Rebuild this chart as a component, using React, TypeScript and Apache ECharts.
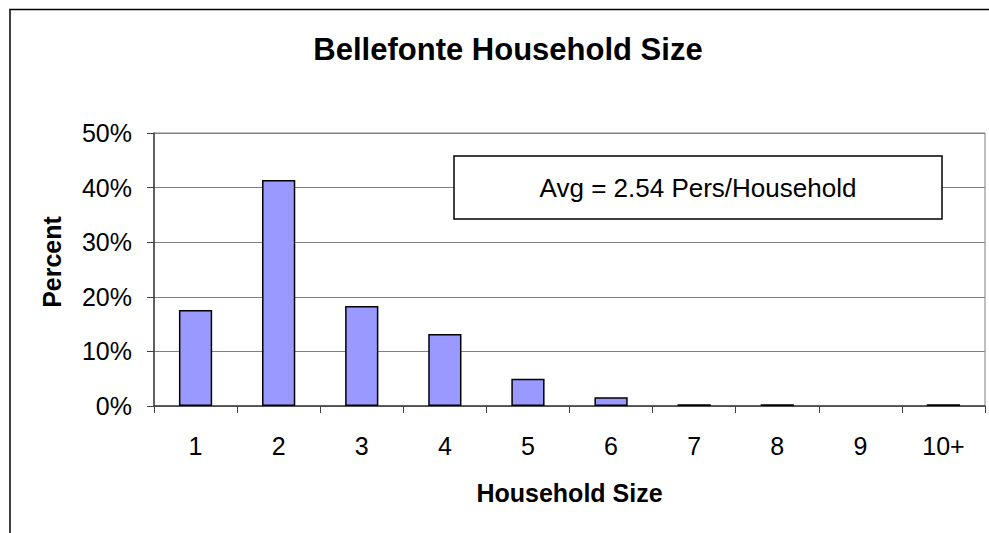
import React, { useEffect, useRef } from "react";
import * as echarts from "echarts";

const categories = ["1", "2", "3", "4", "5", "6", "7", "8", "9", "10+"];
const percentValues = [17.6, 41.4, 18.3, 13.2, 5.0, 1.6, 0.3, 0.3, 0, 0.3];
const titleText = "Bellefonte Household Size";
const noteText = "Avg = 2.54 Pers/Household";
const xAxisName = "Household Size";
const yAxisName = "Percent";

const FONT = "'Liberation Sans', Arial, Helvetica, sans-serif";

export default function App() {
  const ref = useRef<HTMLDivElement>(null);
  useEffect(() => {
    if (!ref.current) return;
    const chart = echarts.init(ref.current, undefined, { renderer: "svg" });
    chart.setOption({
      animation: false,
      backgroundColor: "#ffffff",
      textStyle: { fontFamily: FONT },
      grid: {
        left: 154,
        right: 4,
        top: 133,
        bottom: 127,
        show: true,
        borderColor: "#808080",
        borderWidth: 1,
        backgroundColor: "transparent",
      },
      xAxis: {
        type: "category",
        data: categories,
        boundaryGap: true,
        axisLine: { show: true, lineStyle: { color: "#404040", width: 1.5 } },
        axisTick: { show: true, alignWithLabel: false, length: 7, lineStyle: { color: "#404040", width: 1 } },
        axisLabel: { margin: 27, fontSize: 25, color: "#000", fontFamily: FONT },
        name: xAxisName,
        nameLocation: "middle",
        nameGap: 74,
        nameTextStyle: { fontSize: 25, fontWeight: "bold", color: "#000", fontFamily: FONT },
        splitLine: { show: false },
      },
      yAxis: {
        type: "value",
        min: 0,
        max: 50,
        interval: 10,
        axisLine: { show: true, lineStyle: { color: "#404040", width: 1.5 } },
        axisTick: { show: true, length: 7, lineStyle: { color: "#404040", width: 1 } },
        axisLabel: { margin: 22, fontSize: 25, color: "#000", fontFamily: FONT, formatter: "{value}%" },
        splitLine: { show: true, lineStyle: { color: "#808080", width: 1 } },
        name: yAxisName,
        nameLocation: "middle",
        nameGap: 90,
        nameRotate: 90,
        nameTextStyle: { fontSize: 25, fontWeight: "bold", color: "#000", fontFamily: FONT, padding: [0, 0, 0, 15] },
      },
      series: [
        {
          type: "bar",
          data: percentValues.map((v) =>
            v === 0 ? { value: v, itemStyle: { borderWidth: 0 } } : v
          ),
          barWidth: "40%",
          itemStyle: { color: "#9999FF", borderColor: "#000", borderWidth: 1.5 },
        },
      ],
      graphic: [
        {
          type: "rect",
          silent: true,
          shape: { x: 10, y: 9.5, width: 1100, height: 700 },
          style: { fill: "none", stroke: "#000", lineWidth: 1.5 },
          z: 10,
        },
        {
          type: "text",
          x: 508,
          y: 49,
          style: {
            text: titleText,
            font: `bold 31px ${FONT}`,
            fill: "#000",
            textAlign: "center",
            textVerticalAlign: "middle",
          },
          z: 10,
        },
        {
          type: "rect",
          shape: { x: 454, y: 156, width: 488, height: 63 },
          style: { fill: "#fff", stroke: "#000", lineWidth: 1.5 },
          z: 10,
        },
        {
          type: "text",
          x: 698,
          y: 188,
          style: {
            text: noteText,
            font: `26px ${FONT}`,
            fill: "#000",
            textAlign: "center",
            textVerticalAlign: "middle",
          },
          z: 11,
        },
      ],
    });
    return () => chart.dispose();
  }, []);
  return (
    <div
      ref={ref}
      style={{ position: "fixed", left: 0, top: 0, width: 989, height: 533 }}
    />
  );
}
